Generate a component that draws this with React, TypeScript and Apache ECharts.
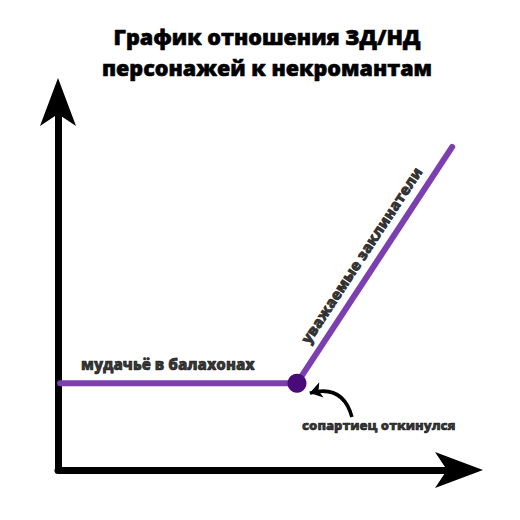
import React, { useEffect, useRef } from "react";
import * as echarts from "echarts";

const titleLines = ["График отношения ЗД/НД", "персонажей к некромантам"];
const lineX = [0.5, 59.6, 98.3];
const lineY = [23.6, 23.6, 87.8];
const turnIndex = 1;
const annotationTexts = ["мудачьё в балахонах", "уважаемые заклинатели", "сопартиец откинулся"];
const annotationX = [27.4, 75.6, 80.0];
const annotationY = [28.8, 58.4, 12.2];
const annotationAngle = [0, 56.7, 0];
const pointerFrom = [73.3, 14.4];
const pointerTo = [62.8, 20.9];

export default function App() {
  const ref = useRef<HTMLDivElement>(null);
  useEffect(() => {
    const chart = echarts.init(ref.current!, null, { renderer: "svg" });
    const font = "'Open Sans', 'Noto Sans', sans-serif";
    const axisCommon = {
      type: "value" as const,
      min: 0,
      max: 100,
      axisLabel: { show: false },
      axisTick: { show: false },
      splitLine: { show: false },
      axisLine: {
        show: true,
        symbol: ["none", "arrow"],
        symbolSize: [27, 48],
        symbolOffset: [0, 24],
        lineStyle: { color: "#000", width: 7, cap: "round" },
      },
    };
    chart.setOption({
      animation: false,
      backgroundColor: "#fff",
      title: {
        text: titleLines.join("\n"),
        left: 262,
        textAlign: "center",
        top: 16,
        padding: 5,
        textStyle: {
          fontFamily: font,
          fontWeight: 800,
          fontSize: 21.5,
          lineHeight: 31,
          color: "#000",
          textBorderColor: "#000",
          textBorderWidth: 0.6,
        },
      },
      grid: { left: 58, right: 61, top: 102, bottom: 50 },
      xAxis: axisCommon,
      yAxis: axisCommon,
      series: [
        {
          type: "line",
          data: lineX.map((x, i) => [x, lineY[i]]),
          symbol: "none",
          lineStyle: { color: "#7b3fb0", width: 6, cap: "round", join: "round" },
          z: 3,
        },
        {
          type: "scatter",
          data: [[lineX[turnIndex], lineY[turnIndex]]],
          symbolSize: 19,
          itemStyle: { color: "#4a0a7a", opacity: 1 },
          z: 4,
        },
        {
          type: "lines",
          coordinateSystem: "cartesian2d",
          data: [{ coords: [pointerFrom, pointerTo] }],
          symbol: ["none", "arrow"],
          symbolSize: 12,
          lineStyle: { color: "#000", width: 3.5, curveness: -0.5, opacity: 1 },
          z: 5,
        },
        {
          type: "scatter",
          symbolSize: 0,
          silent: true,
          data: annotationTexts.map((t, i) => ({
            value: [annotationX[i], annotationY[i]],
            label: {
              show: true,
              position: "inside",
              formatter: t,
              rotate: annotationAngle[i],
              fontFamily: font,
              fontWeight: 800,
              fontSize: i === 2 ? 13 : 15,
              color: "#000",
              textBorderColor: "#000",
              textBorderWidth: 0.6,
              align: "center",
              verticalAlign: "middle",
            },
          })),
          z: 6,
        },
      ],
    });
    return () => chart.dispose();
  }, []);
  return (
    <div
      ref={ref}
      style={{ position: "fixed", left: 0, top: 0, width: 520, height: 520, background: "#fff" }}
    />
  );
}
